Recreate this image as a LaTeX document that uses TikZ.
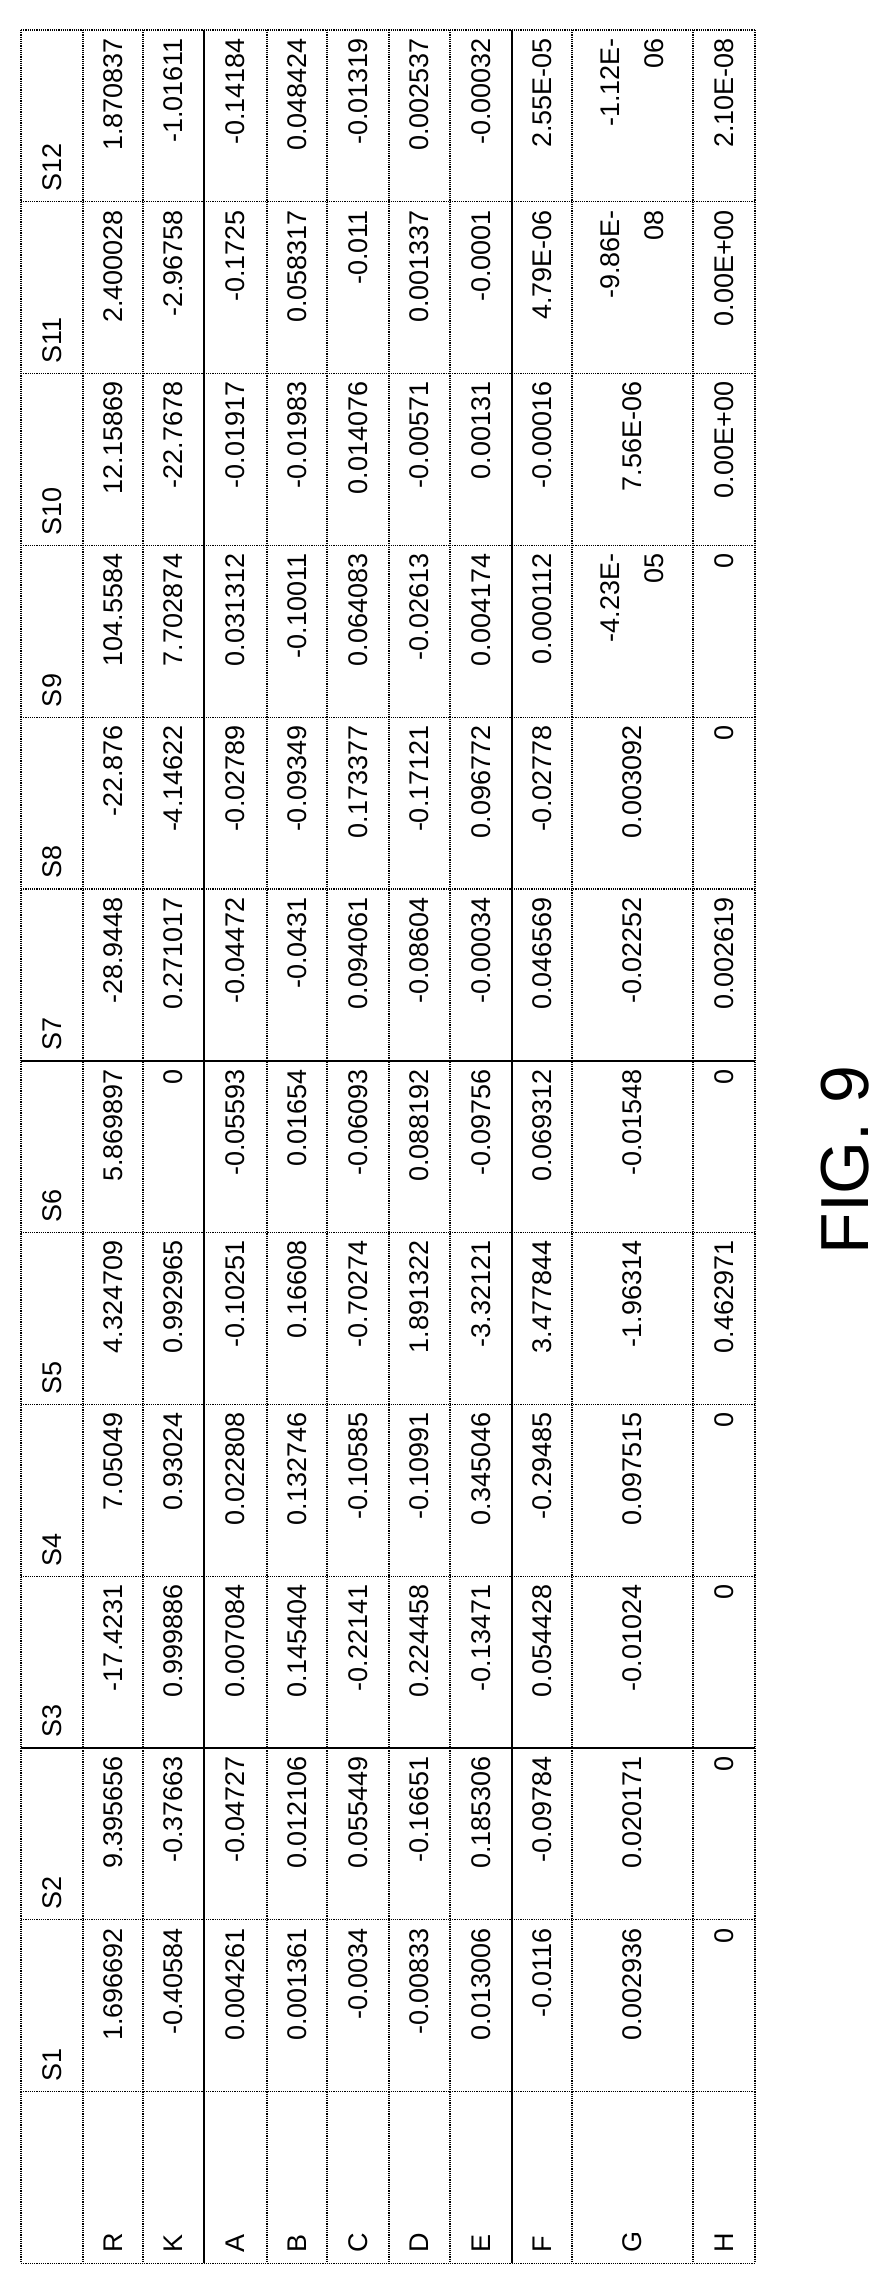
\documentclass[tikz,border=0pt]{standalone}
\usepackage{fontspec}
\setmainfont{Liberation Sans}
\newcommand{\colw}{171.8}
% one row of the table (drawn turned): #1 name, #2 centre x, #3 values S1..S12
\newcommand{\tablerow}[3]{%
 \foreach \v [count=\i] in {#3} {%
  \node[val] (#1\i) at ({#2}, {-(30+(12-\i)*\colw+6)}) {\v};%
 }%
}
\tikzset{
  val/.style={rotate=90, anchor=east, align=right, inner sep=2pt,
    font=\fontsize{27}{44}\selectfont},
  lbl/.style={rotate=90, anchor=west, inner sep=2pt,
    font=\fontsize{27}{30}\selectfont},
  grid/.style={densely dotted, line width=1.2pt},
  rule/.style={line width=1.4pt}
}
\begin{document}
\begin{tikzpicture}[x=1pt,y=1pt]
  \useasboundingbox (0,0) rectangle (896,-2283);
  % lines
  \foreach \x in {21,83,143,267,327,389,450,572,693,755}
    \draw[grid] (\x,-30) -- (\x,-2263);
  \foreach \x in {204,512}
    \draw[rule] (\x,-30) -- (\x,-2263);
  \foreach \k in {0,1,2,3,4,5,7,8,9,11,12,13}
    \draw[grid] (21,{-(30+\k*\colw)}) -- (755,{-(30+\k*\colw)});
  \foreach \k in {6,10}
    \draw[rule] (21,{-(30+\k*\colw)}) -- (755,{-(30+\k*\colw)});
  % header
  \foreach \i in {1,...,12}
    \node[lbl] (S\i) at (52, {-(30+(13-\i)*\colw-8)}) {S\i};
  % row labels
  \foreach \r/\x in {R/113,K/173,A/235,B/297,C/358,D/419,E/481,F/542,G/632,H/724}
    \node[lbl] (lbl\r) at (\x, -2255) {\r};
  % values
  \tablerow{R}{113}{1.696692,9.395656,-17.4231,7.05049,4.324709,5.869897,-28.9448,-22.876,104.5584,12.15869,2.400028,1.870837}
  \tablerow{K}{173}{-0.40584,-0.37663,0.999886,0.93024,0.992965,0,0.271017,-4.14622,7.702874,-22.7678,-2.96758,-1.01611}
  \tablerow{A}{235}{0.004261,-0.04727,0.007084,0.022808,-0.10251,-0.05593,-0.04472,-0.02789,0.031312,-0.01917,-0.1725,-0.14184}
  \tablerow{B}{297}{0.001361,0.012106,0.145404,0.132746,0.16608,0.01654,-0.0431,-0.09349,-0.10011,-0.01983,0.058317,0.048424}
  \tablerow{C}{358}{-0.0034,0.055449,-0.22141,-0.10585,-0.70274,-0.06093,0.094061,0.173377,0.064083,0.014076,-0.011,-0.01319}
  \tablerow{D}{419}{-0.00833,-0.16651,0.224458,-0.10991,1.891322,0.088192,-0.08604,-0.17121,-0.02613,-0.00571,0.001337,0.002537}
  \tablerow{E}{481}{0.013006,0.185306,-0.13471,0.345046,-3.32121,-0.09756,-0.00034,0.096772,0.004174,0.00131,-0.0001,-0.00032}
  \tablerow{F}{542}{-0.0116,-0.09784,0.054428,-0.29485,3.477844,0.069312,0.046569,-0.02778,0.000112,-0.00016,4.79E-06,2.55E-05}
  \tablerow{G}{632}{0.002936,0.020171,-0.01024,0.097515,-1.96314,-0.01548,-0.02252,0.003092,{-4.23E-\\05},7.56E-06,{-9.86E-\\08},{-1.12E-\\06}}
  \tablerow{H}{724}{0,0,0,0,0.462971,0,0.002619,0,0,0.00E+00,0.00E+00,2.10E-08}
  % caption
  \node[rotate=90, font=\fontsize{68}{70}\selectfont] (fig) at (845,-1160) {FIG. 9};
\end{tikzpicture}
\end{document}
